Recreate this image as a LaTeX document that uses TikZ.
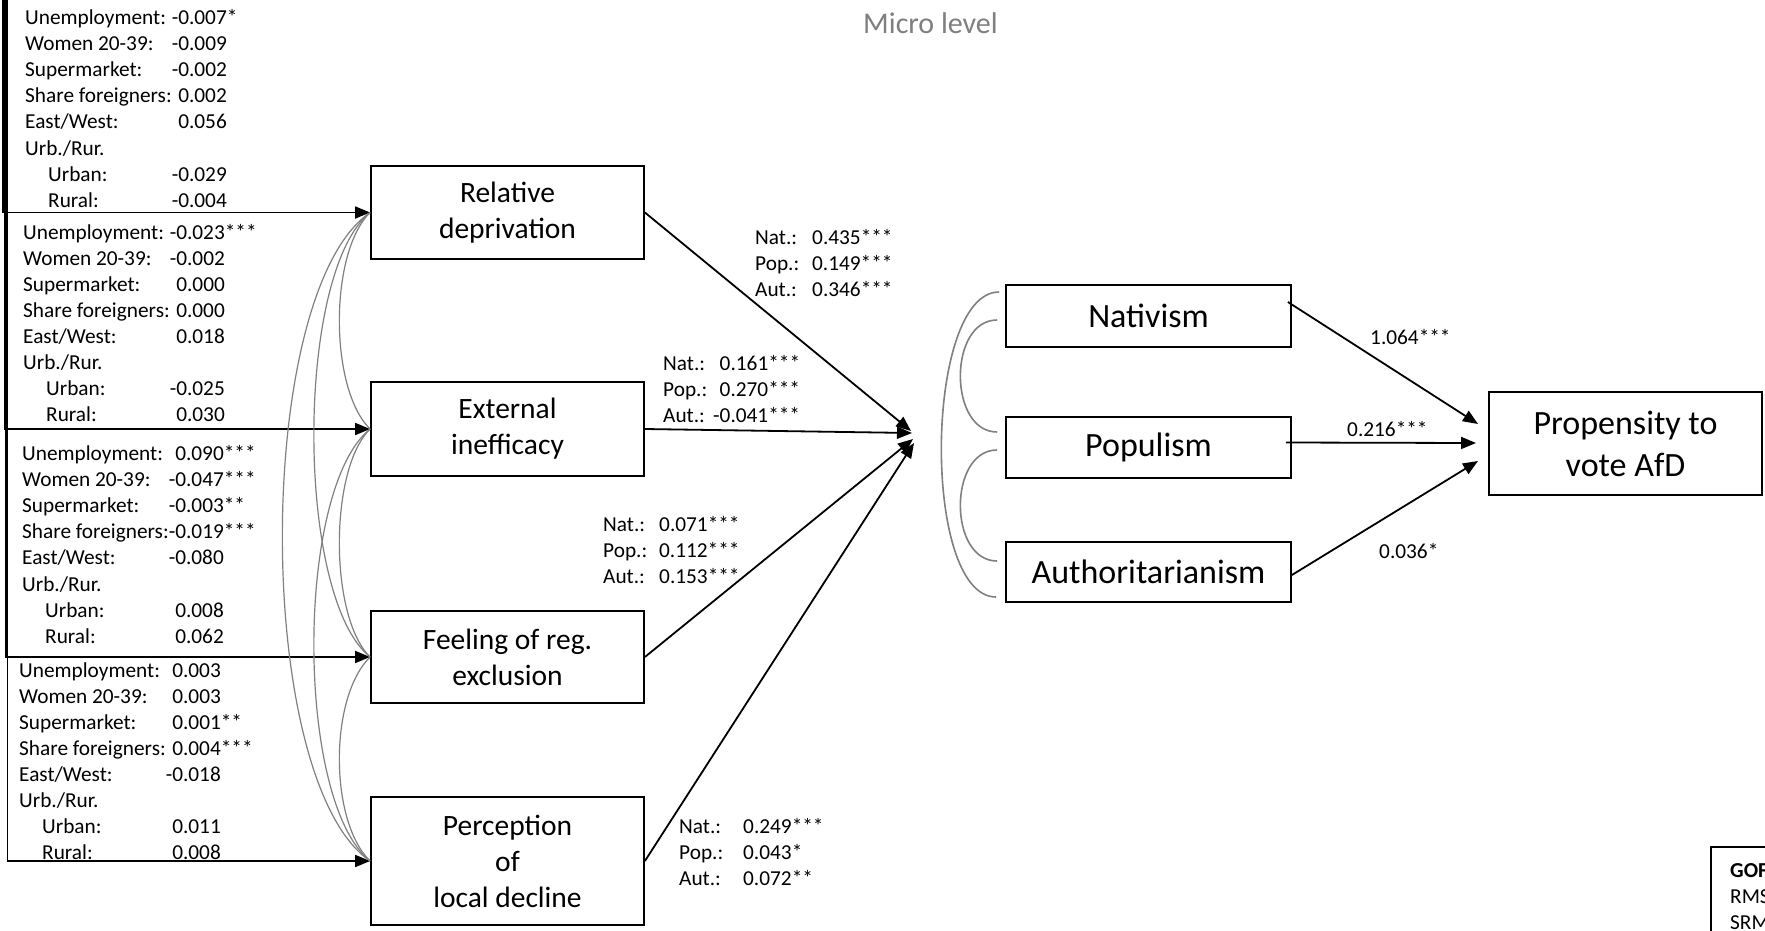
\documentclass[tikz,border=0pt]{standalone}
\usepackage{fontspec}
\setmainfont{Carlito}
\usetikzlibrary{arrows.meta}
\definecolor{covgray}{RGB}{128,128,128}
\definecolor{microgray}{RGB}{127,127,127}
\newcommand{\mystars}[1]{\rlap{#1}}
\newcommand{\myind}{\hspace*{23pt}}
\begin{document}
\begin{tikzpicture}[x=1pt,y=-1pt,
  smalltxt/.style={font=\fontsize{21.3}{26.1}\selectfont, inner sep=0pt},
  box1/.style={draw, line width=1.8pt, minimum width=273pt, align=center, inner sep=0pt, font=\fontsize{29.5}{36}\selectfont},
  box2/.style={draw, line width=1.8pt, minimum width=285pt, align=center, inner sep=0pt, font=\fontsize{34}{42}\selectfont},
  arr/.style={line width=1.8pt, -{Triangle[length=15pt,width=12pt]}},
  covl/.style={draw=covgray, line width=1.2pt},
  covr/.style={draw=covgray, line width=1.6pt}
]
\useasboundingbox (0,0) rectangle (1765,930);
\clip (0,0) rectangle (1765,930);
\fill[white] (0,0) rectangle (1765,930);

% first-level boxes
\node[box1, minimum height=93pt] (rel) at (507.5,212.5) {Relative\\deprivation};
\node[box1, minimum height=94pt] (ext) at (507.5,429) {External\\inefficacy};
\node[box1, minimum height=92pt] (feel) at (507.5,657) {Feeling of reg.\\exclusion};
\node[box1, minimum height=128pt] (perc) at (507.5,861) {Perception\\of\\local decline};

% second-level boxes
\node[box2, minimum height=62pt] (nat) at (1148.5,316) {Nativism};
\node[box2, minimum height=61pt] (pop) at (1148.5,447.5) {Populism};
\node[box2, minimum height=60pt] (auth) at (1148.5,572) {Authoritarianism};
\node[box2, minimum width=273pt, minimum height=103pt] (afd) at (1625.5,443.5) {Propensity to\\vote AfD};

% title
\node[font=\fontsize{30}{36}\selectfont, text=microgray, anchor=base, inner sep=0pt] (micro) at (930.5,33) {Micro level};

% left coefficient blocks
\node[smalltxt, anchor=base west] (b1) at (25,24.5) {\begin{tabular}[t]{@{}l@{}r@{}}
Unemployment: & -0.007\mystars{*}\\
Women 20-39: & -0.009\\
Supermarket: & -0.002\\
Share foreigners: & 0.002\\
East/West: & 0.056\\
Urb./Rur. & \\
\myind Urban: & -0.029\\
\myind Rural: & -0.004
\end{tabular}};
\node[smalltxt, anchor=base west] (b2) at (23,239) {\begin{tabular}[t]{@{}l@{}r@{}}
Unemployment: & -0.023\mystars{***}\\
Women 20-39: & -0.002\\
Supermarket: & 0.000\\
Share foreigners: & 0.000\\
East/West: & 0.018\\
Urb./Rur. & \\
\myind Urban: & -0.025\\
\myind Rural: & 0.030
\end{tabular}};
\node[smalltxt, anchor=base west] (b3) at (22,460.5) {\begin{tabular}[t]{@{}l@{}r@{}}
Unemployment: & 0.090\mystars{***}\\
Women 20-39: & -0.047\mystars{***}\\
Supermarket: & -0.003\mystars{**}\\
Share foreigners: & -0.019\mystars{***}\\
East/West: & -0.080\\
Urb./Rur. & \\
\myind Urban: & 0.008\\
\myind Rural: & 0.062
\end{tabular}};
\node[smalltxt, anchor=base west] (b4) at (19,677) {\begin{tabular}[t]{@{}l@{}r@{}}
Unemployment: & 0.003\\
Women 20-39: & 0.003\\
Supermarket: & 0.001\mystars{**}\\
Share foreigners: & 0.004\mystars{***}\\
East/West: & -0.018\\
Urb./Rur. & \\
\myind Urban: & 0.011\\
\myind Rural: & 0.008
\end{tabular}};

% arrows from the left edge
\coordinate (s1) at (3,0);
\coordinate (s2) at (4.5,0);
\coordinate (s3) at (6,0);
\coordinate (s4) at (7.5,0);
\draw[arr] (s1) |- (rel.west);
\draw[arr] (s2) |- (ext.west);
\draw[arr] (s3) |- (feel.west);
\draw[arr] (s4) |- (perc.west);

% left covariances
\draw[covl] (rel.west) .. controls +(-41,40) and +(-41,-40) .. (ext.west);
\draw[covl] (rel.west) .. controls +(-75,60) and +(-75,-60) .. (feel.west);
\draw[covl] (rel.west) .. controls +(-117,80) and +(-117,-80) .. (perc.west);
\draw[covl] (ext.west) .. controls +(-41,40) and +(-41,-40) .. (feel.west);
\draw[covl] (ext.west) .. controls +(-75,60) and +(-75,-60) .. (perc.west);
\draw[covl] (feel.west) .. controls +(-41,40) and +(-41,-40) .. (perc.west);

% arrows to the convergence point
\coordinate (cv1) at (911,431);
\coordinate (cv2) at (912,433);
\coordinate (cv3) at (913,439);
\coordinate (cv4) at (914,443);
\draw[arr] (rel.east) -- (cv1);
\draw[arr] (ext.east) -- (cv2);
\draw[arr] (feel.east) -- (cv3);
\draw[arr] (perc.east) -- (cv4);

% path labels, first level
\node[smalltxt, anchor=base west] (lrel) at (755,244) {\begin{tabular}[t]{@{}l@{}r@{}}
\makebox[57pt][l]{Nat.:} & 0.435\mystars{***}\\
\makebox[57pt][l]{Pop.:} & 0.149\mystars{***}\\
\makebox[57pt][l]{Aut.:} & 0.346\mystars{***}
\end{tabular}};
\node[smalltxt, anchor=base west] (lext) at (663,370) {\begin{tabular}[t]{@{}l@{}r@{}}
\makebox[50pt][l]{Nat.:} & 0.161\mystars{***}\\
\makebox[50pt][l]{Pop.:} & 0.270\mystars{***}\\
\makebox[50pt][l]{Aut.:} & -0.041\mystars{***}
\end{tabular}};
\node[smalltxt, anchor=base west] (lfeel) at (603,531) {\begin{tabular}[t]{@{}l@{}r@{}}
\makebox[56pt][l]{Nat.:} & 0.071\mystars{***}\\
\makebox[56pt][l]{Pop.:} & 0.112\mystars{***}\\
\makebox[56pt][l]{Aut.:} & 0.153\mystars{***}
\end{tabular}};
\node[smalltxt, anchor=base west] (lperc) at (679,833) {\begin{tabular}[t]{@{}l@{}r@{}}
\makebox[64pt][l]{Nat.:} & 0.249\mystars{***}\\
\makebox[64pt][l]{Pop.:} & 0.043\mystars{*}\\
\makebox[64pt][l]{Aut.:} & 0.072\mystars{**}
\end{tabular}};

% right covariances
\draw[covr] ([xshift=-6pt,yshift=24pt]nat.west) .. controls +(-75,0) and +(-75,0) .. ([xshift=-9pt,yshift=-25pt]auth.west);
\draw[covr] ([xshift=-8pt,yshift=-4pt]nat.west) .. controls +(-49,0) and +(-49,0) .. ([xshift=-8pt,yshift=15.5pt]pop.west);
\draw[covr] ([xshift=-8pt,yshift=-2.5pt]pop.west) .. controls +(-49,0) and +(-49,0) .. ([xshift=-8pt,yshift=11pt]auth.west);

% arrows to AfD
\coordinate (t1) at (1478,424);
\coordinate (t2) at (1476,443);
\coordinate (t3) at (1478,461);
\draw[arr] ([xshift=-4pt,yshift=14pt]nat.east) -- (t1);
\draw[arr] ([xshift=-6pt,yshift=5pt]pop.east) -- (t2);
\draw[arr] ([yshift=-3pt]auth.east) -- (t3);
\node[smalltxt, anchor=base west] (l1) at (1370,344) {1.064***};
\node[smalltxt, anchor=base west] (l2) at (1347,436) {0.216***};
\node[smalltxt, anchor=base west] (l3) at (1379,558) {0.036*};

% GOF box (cut by the page edge)
\node[draw, line width=1.5pt, anchor=north west, minimum width=100pt, minimum height=120pt, inner sep=0pt] (gofbox) at (1710,846) {};
\node[smalltxt, anchor=base west] (gof) at (1730,877) {\begin{tabular}[t]{@{}l@{}}
\textbf{GOF}\\
RMS\\
SRM
\end{tabular}};
\end{tikzpicture}
\end{document}
